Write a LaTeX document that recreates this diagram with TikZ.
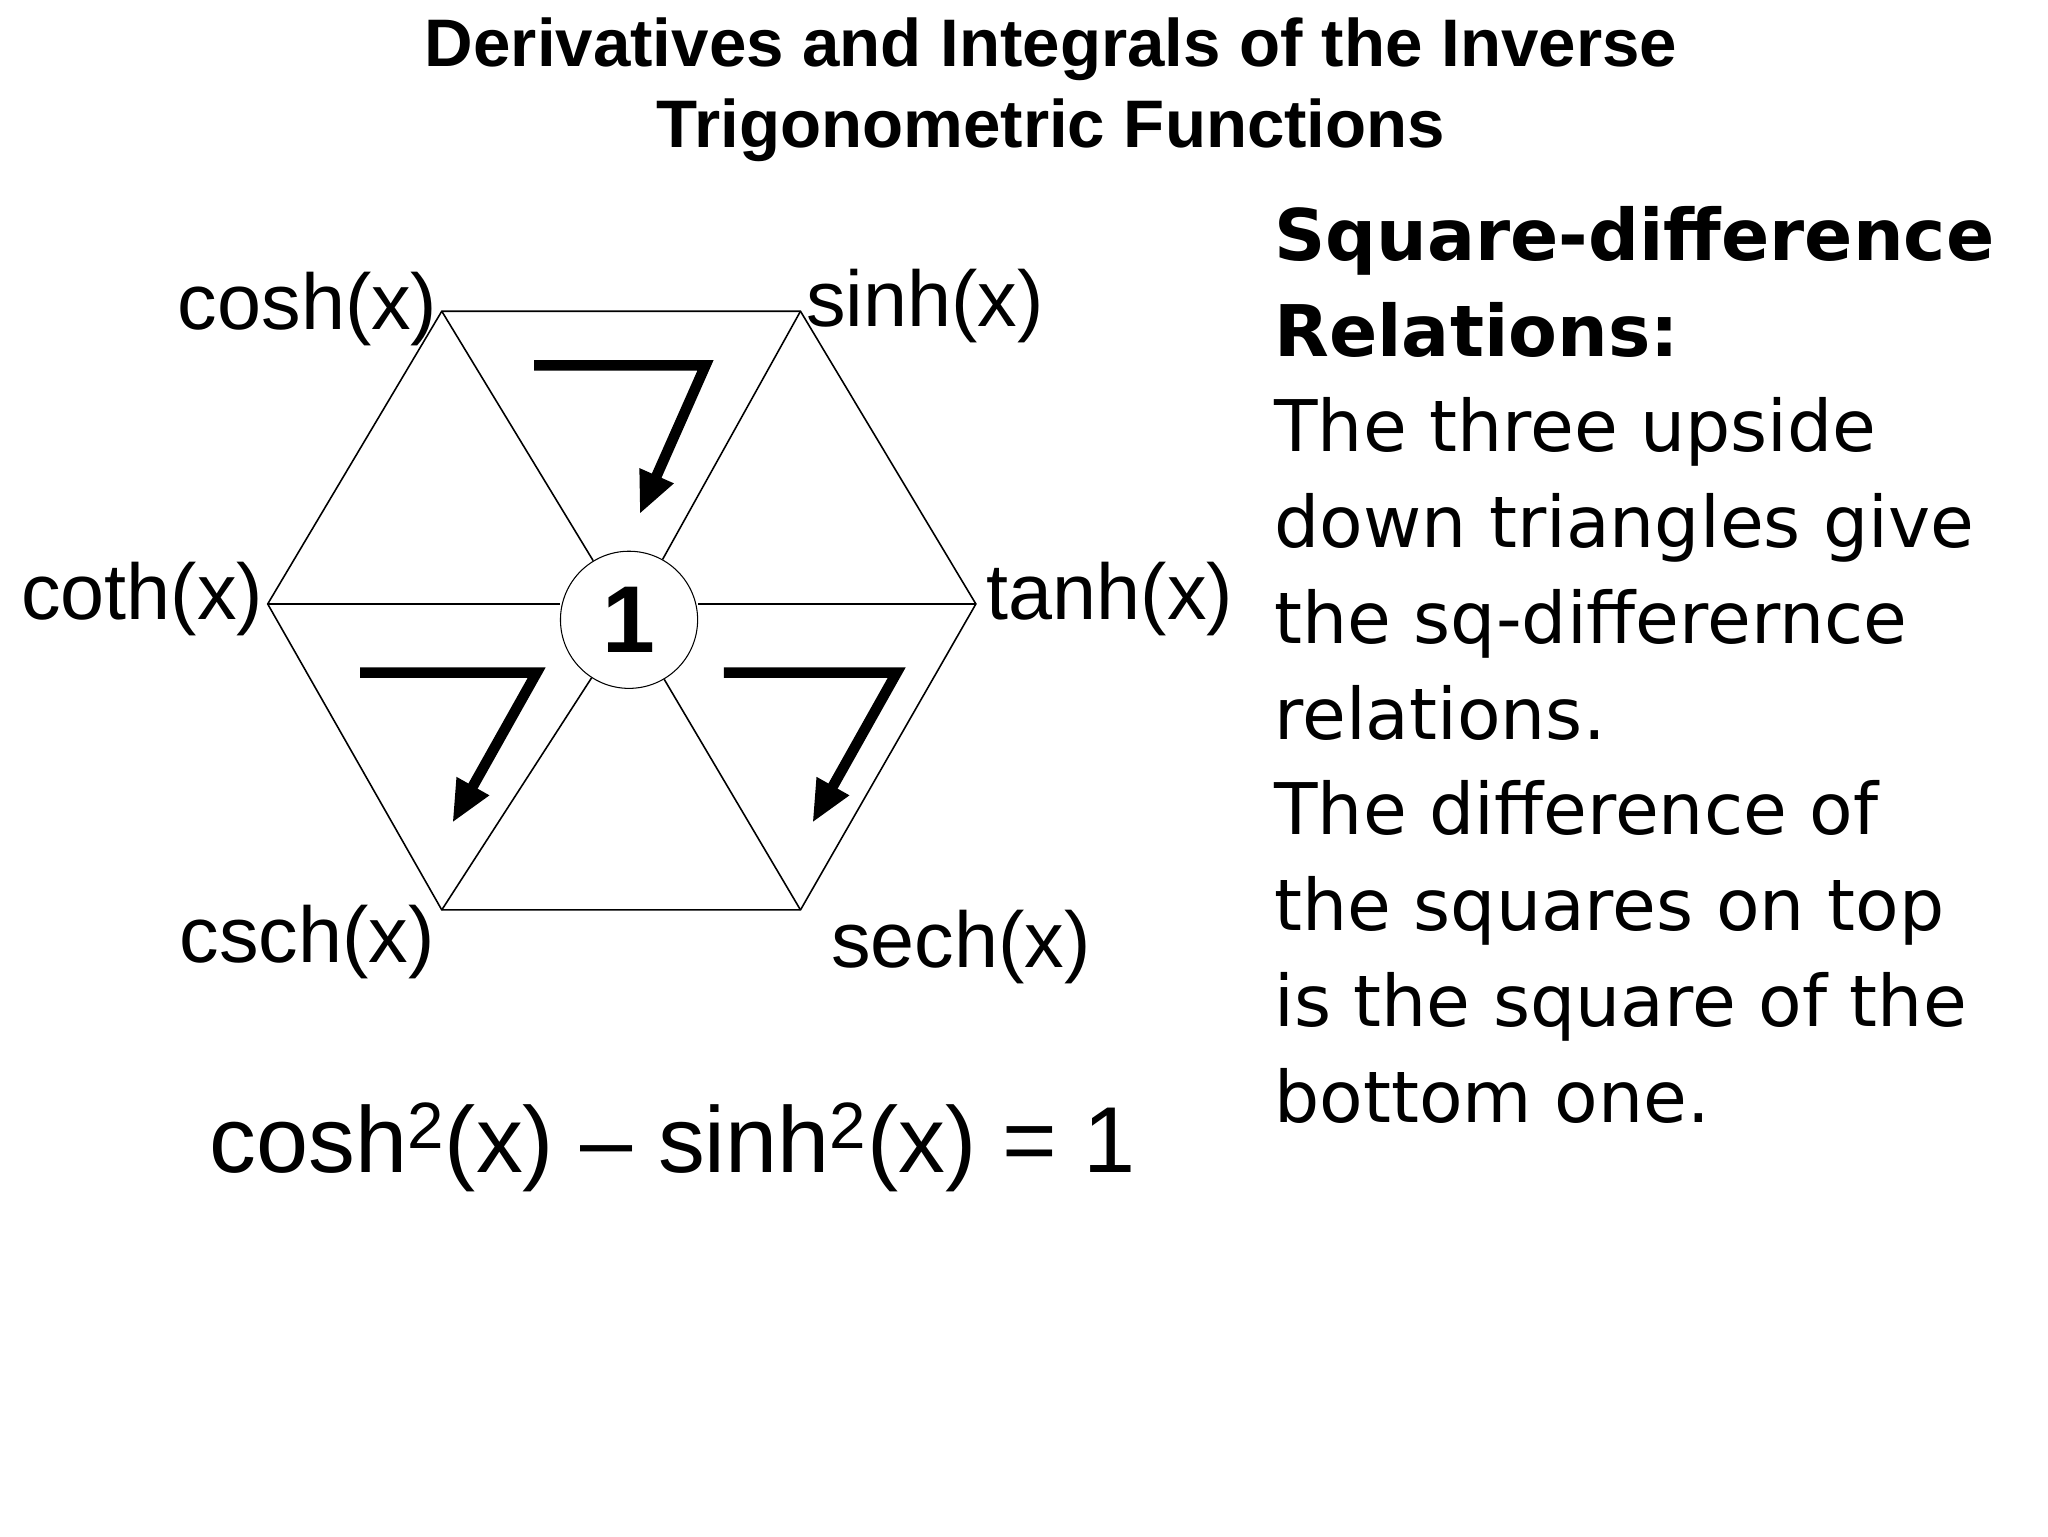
\documentclass[tikz,border=0pt]{standalone}
\usepackage{fontspec}
\setmainfont{Liberation Sans}
\newfontfamily\verd{DejaVu Sans}
\usetikzlibrary{arrows.meta}
\begin{document}
\begin{tikzpicture}[x=0.5pt,y=-0.5pt,
  lbl/.style={font=\fontsize{30}{34}\selectfont,inner sep=0pt},
  hex/.style={draw,line width=0.6pt},
  bigarrow/.style={line width=4pt,-{Triangle[length=16pt,width=13pt]}}]
\useasboundingbox (0,0) rectangle (1553,1165);
\node[font=\fontsize{25.5}{31}\selectfont\bfseries,align=center] (title) at (797,68) {Derivatives and Integrals of the Inverse\\Trigonometric Functions};
\coordinate (A) at (335,236);
\coordinate (B) at (607,236);
\coordinate (C) at (740,458);
\coordinate (D) at (607,690);
\coordinate (E) at (335,690);
\coordinate (F) at (203,458);
\node[draw,circle,minimum size=52pt,inner sep=0pt,font=\fontsize{36}{36}\selectfont\bfseries] (one) at (477,470) {1};
\draw[hex] (A)--(B)--(C)--(D)--(E)--(F)--cycle;
\foreach \v in {A,B,D,E} \draw[hex] (\v) -- (one);
\draw[hex] (F) -- (one.west|-F);
\draw[hex] (C) -- (one.east|-C);
\node[lbl,anchor=east] (l1) at (332,234) {cosh(x)};
\node[lbl,anchor=west] (l2) at (611,232) {sinh(x)};
\node[lbl,anchor=west] (l3) at (748,454) {tanh(x)};
\node[lbl,anchor=east] (l4) at (200,454) {coth(x)};
\node[lbl,anchor=east] (l5) at (330,714) {csch(x)};
\node[lbl,anchor=west] (l6) at (630,718) {sech(x)};
\coordinate (a1) at (405,277); \coordinate (a2) at (535,277); \coordinate (a3) at (485,390);
\coordinate (b1) at (273,510); \coordinate (b2) at (407,510); \coordinate (b3) at (343,624);
\coordinate (c1) at (549,510); \coordinate (c2) at (680,510); \coordinate (c3) at (616,624);
\draw[bigarrow] (a1) -- (a2) -- (a3);
\draw[bigarrow] (b1) -- (b2) -- (b3);
\draw[bigarrow] (c1) -- (c2) -- (c3);
\node[font=\fontsize{35.5}{40}\selectfont] (eq) at (510,870) {cosh\textsuperscript{2}(x) – sinh\textsuperscript{2}(x) = 1};
\node[anchor=north west,align=left,inner sep=0pt,font=\verd\fontsize{27}{36.3}\selectfont] (txt) at (966,156) {\textbf{Square-difference}\\\textbf{Relations:}\\The three upside\\down triangles give\\the sq-differernce\\relations.\\The difference of\\the squares on top\\is the square of the\\bottom one.};
\end{tikzpicture}
\end{document}
